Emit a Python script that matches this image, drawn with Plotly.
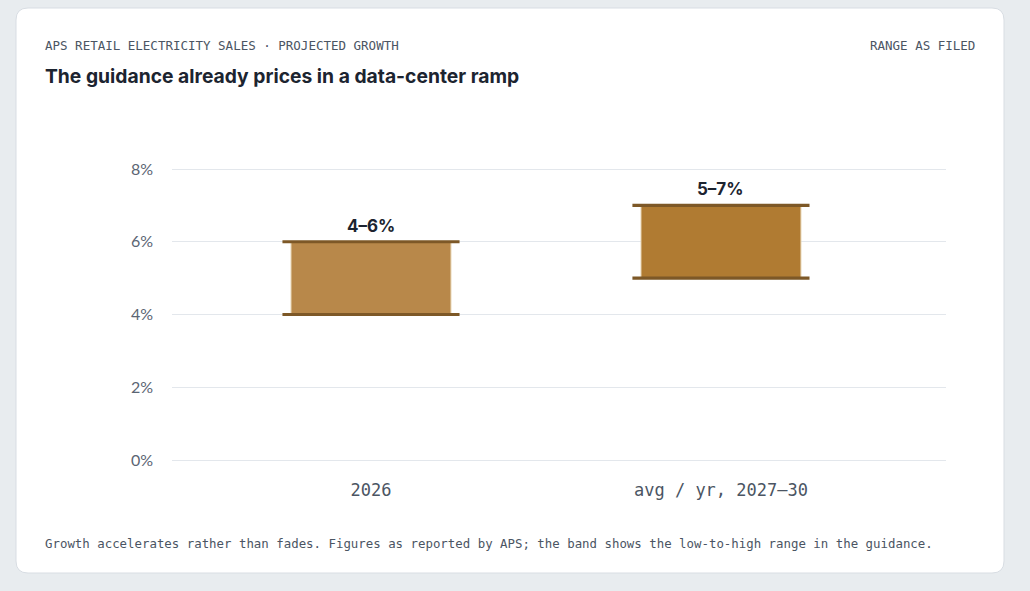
import plotly.graph_objects as go

categories = ["2026", "avg / yr, 2027–30"]
low_values = [4, 5]
high_values = [6, 7]
fill_colors = ["#b8884a", "#b07b32"]
y_ticks = [0, 2, 4, 6, 8]
y_tick_labels = ["0%", "2%", "4%", "6%", "8%"]

CAP_H = 0.085
labels = [f"{lo}–{hi}%" for lo, hi in zip(low_values, high_values)]

W, H = 1030, 591
L, R, T, B = 172, 84, 165, 127

fig = go.Figure()
fig.add_trace(go.Bar(
    x=categories, base=low_values,
    y=[h - l for h, l in zip(high_values, low_values)],
    width=0.457, marker=dict(color=fill_colors, line=dict(color="#e6d3b0", width=1)),
    hoverinfo="skip", showlegend=False))
for vals in (low_values, high_values):
    fig.add_trace(go.Bar(
        x=categories, base=[v - CAP_H / 2 for v in vals], y=[CAP_H] * len(vals),
        width=0.506, marker=dict(color="#7d5827", line=dict(width=0)),
        hoverinfo="skip", showlegend=False))

for i, (hi, lab) in enumerate(zip(high_values, labels)):
    fig.add_annotation(x=i, y=hi, text=lab, showarrow=False, yshift=16,
                       yanchor="middle", xanchor="center",
                       font=dict(family="Inter", size=17, color="#1c2430", weight=700))

fig.update_layout(
    width=W, height=H,
    paper_bgcolor="#e8ecef", plot_bgcolor="#ffffff",
    barmode="overlay",
    margin=dict(l=L, r=R, t=T, b=B),
    xaxis=dict(type="category", range=[-0.5686, 1.643], showgrid=False,
               showline=False, zeroline=False, ticks="", ticklabelstandoff=14,
               tickfont=dict(family="DejaVu Sans Mono", size=17, color="#4b5563"),
               fixedrange=True),
    yaxis=dict(range=[-0.11, 8.11], tickvals=y_ticks, ticktext=y_tick_labels,
               showgrid=True, gridcolor="#e3e7ec", gridwidth=1, zeroline=False,
               showline=False, ticks="", ticklabelstandoff=18,
               tickfont=dict(family="Lato", size=16, color="#5b6573"),
               fixedrange=True),
)

pw, ph = W - L - R, H - T - B
def px(x): return (x - L) / pw
def py(y): return (H - B - y) / ph
x0, x1, y0, y1, rr = 16, 1004, 8, 573, 12
path = (f"M {px(x0+rr)},{py(y0)} L {px(x1-rr)},{py(y0)} "
        f"Q {px(x1)},{py(y0)} {px(x1)},{py(y0+rr)} L {px(x1)},{py(y1-rr)} "
        f"Q {px(x1)},{py(y1)} {px(x1-rr)},{py(y1)} L {px(x0+rr)},{py(y1)} "
        f"Q {px(x0)},{py(y1)} {px(x0)},{py(y1-rr)} L {px(x0)},{py(y0+rr)} "
        f"Q {px(x0)},{py(y0)} {px(x0+rr)},{py(y0)} Z")
fig.layout.shapes = [dict(type="path", xref="paper", yref="paper", layer="below",
                          path=path, fillcolor="#ffffff",
                          line=dict(color="#d8dde3", width=1))]

mono = "DejaVu Sans Mono"
fig.add_annotation(xref="paper", yref="paper", x=px(43), y=py(45), xanchor="left", yanchor="middle",
                   text="APS RETAIL ELECTRICITY SALES · PROJECTED GROWTH", showarrow=False,
                   font=dict(family=mono, size=12.5, color="#4b5563"))
fig.add_annotation(xref="paper", yref="paper", x=px(977), y=py(45), xanchor="right", yanchor="middle",
                   text="RANGE AS FILED", showarrow=False,
                   font=dict(family=mono, size=12.5, color="#4b5563"))
fig.add_annotation(xref="paper", yref="paper", x=px(43), y=py(76), xanchor="left", yanchor="middle",
                   text="The guidance already prices in a data-center ramp", showarrow=False,
                   font=dict(family="Inter", size=19.3, color="#1c2430", weight=700))
fig.add_annotation(xref="paper", yref="paper", x=px(43), y=py(543), xanchor="left", yanchor="middle",
                   text="Growth accelerates rather than fades. Figures as reported by APS; the band shows the low-to-high range in the guidance.",
                   showarrow=False, font=dict(family=mono, size=12.4, color="#4b5563"))

fig.write_html("out.html", config={"displayModeBar": False},
               post_script="document.body.style.margin='0';document.body.style.background='#e8ecef';")
